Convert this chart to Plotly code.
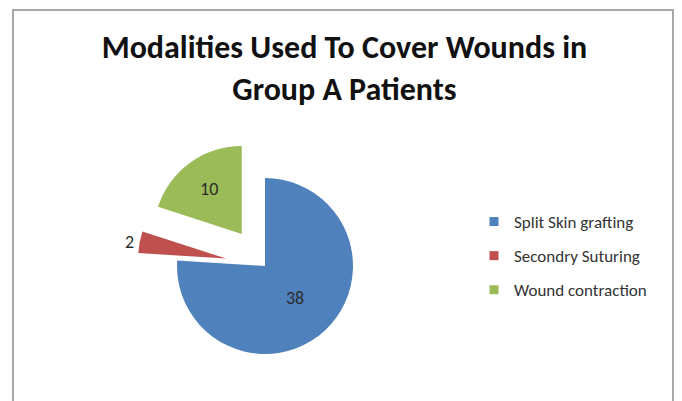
import plotly.graph_objects as go

# ---- data ----
categories = ["Split Skin grafting", "Secondry Suturing", "Wound contraction"]
values = [38, 2, 10]
colors = ["#4F81BD", "#C0504D", "#9BBB59"]
pulls = [0, 0.45, 0.45]
text_positions = ["inside", "outside", "inside"]
title_text = "Modalities Used To Cover Wounds in<br>Group A Patients"

W, H = 682, 401
FONT = "Carlito, Calibri, Lato, sans-serif"

fig = go.Figure()

fig.add_trace(go.Pie(
    labels=categories,
    values=values,
    marker=dict(colors=colors, line=dict(width=0)),
    pull=pulls,
    sort=False,
    direction="clockwise",
    rotation=0,
    textinfo="value",
    textposition=text_positions,
    insidetextorientation="horizontal",
    textfont=dict(family=FONT, size=18, color="#2b2b2b"),
    showlegend=False,
    domain=dict(x=[137.4 / W, 392.6 / W], y=[1 - 393.6 / H, 1 - 138.4 / H]),
    hoverinfo="label+value",
))

# legend proxies (one per category) so item spacing can match
for name, col in zip(categories, colors):
    fig.add_trace(go.Scatter(
        x=[None], y=[None], mode="markers", name=name,
        marker=dict(symbol="square", size=9, color=col),
        legendgroup=name, showlegend=True,
    ))

fig.update_layout(
    width=W, height=H,
    margin=dict(l=0, r=0, t=0, b=0, pad=0, autoexpand=False),
    paper_bgcolor="white",
    plot_bgcolor="rgba(0,0,0,0)",
    xaxis=dict(visible=False),
    yaxis=dict(visible=False),
    title=dict(
        text=title_text,
        x=0.505, xanchor="center",
        y=1 - 58 / H, yanchor="top",
        font=dict(family=FONT, size=32, color="#111111", weight="bold"),
    ),
    legend=dict(
        x=474 / W, xanchor="left",
        y=1 - 256 / H, yanchor="middle",
        font=dict(family=FONT, size=17, color="#333333"),
        tracegroupgap=9,
        bgcolor="rgba(0,0,0,0)",
        itemclick=False,
    ),
    shapes=[dict(
        type="rect", xref="paper", yref="paper",
        x0=13 / W, x1=673 / W, y0=-0.05, y1=1 - 10 / H,
        line=dict(color="#a8a8a8", width=2),
        fillcolor="rgba(0,0,0,0)", layer="below",
    )],
)

fig.write_html("out.html")
